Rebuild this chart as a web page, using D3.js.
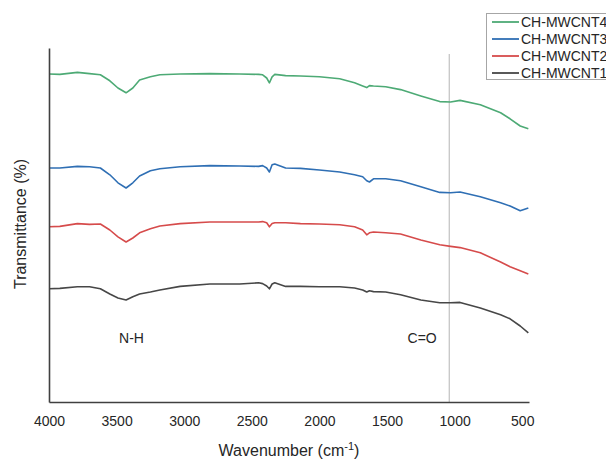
<!DOCTYPE html>
<html lang="en">
	<head>
		<meta charset="utf-8">
		<title>FTIR spectra</title>
		<script type="text/javascript" src="https://cdn.jsdelivr.net/npm/d3@7/dist/d3.min.js"></script>
		<style type="text/css">
			body { margin: 0; background: #fff; }
			text { font-family: "Liberation Sans", Arial, sans-serif; fill: #262626; }
		</style>
	</head>

	<body>
		<script type="text/javascript">
			/* wavenumbers (cm-1) shared by all four spectra */
			var wavenumber = [4000, 3920, 3790, 3700, 3620, 3550, 3490, 3430, 3380, 3330,
							3250, 3180, 3030, 2810, 2590, 2450, 2420, 2390, 2370, 2350,
							2330, 2250, 2140, 2000, 1850, 1740, 1680, 1650, 1630, 1600,
							1510, 1400, 1250, 1110, 1030, 960, 810, 660, 590, 515, 455];

			/* transmittance, spectra offset vertically (arbitrary units) */
			var mwcnt4 = [82, 81.9, 82.4, 82.1, 81.8, 80.3, 78.5, 77.3, 78.5, 80.5,
						81.3, 81.8, 82, 82.1, 82, 81.9, 81.8, 81, 79.8, 81.3,
						81.9, 81.6, 81.5, 81.3, 80.8, 79.8, 79, 78.6, 79.1, 79,
						78.8, 78.1, 76.5, 75.1, 75, 75.4, 74.3, 72.3, 70.8, 69, 68.3];
			var mwcnt3 = [58.5, 58.5, 58.9, 58.8, 58.5, 56.8, 54.8, 53.5, 54.8, 56.5,
						57.8, 58.3, 58.8, 59.1, 59, 58.9, 59.1, 58.5, 57.5, 59.3,
						59.5, 58.5, 58.4, 58, 57.5, 56.8, 56.3, 55.3, 55, 55.8,
						55.8, 55.3, 53.8, 52.4, 52.3, 52.5, 51.3, 49.8, 49, 47.8, 48.5];
			var mwcnt2 = [43.8, 43.9, 44.6, 44.4, 44.5, 43, 41.3, 40, 41, 42.3,
						43.3, 44, 44.6, 45, 45, 45, 45.1, 44.8, 43.8, 44.6,
						44.8, 44.8, 44.6, 44.5, 44.3, 43.8, 43, 41.8, 42.3, 42.5,
						42.3, 42, 40.5, 39.3, 38.9, 38.6, 37.3, 35, 33.8, 32.8, 32];
			var mwcnt1 = [28.3, 28.4, 28.8, 28.8, 28.3, 27, 26, 25.5, 26.3, 27,
						27.5, 28, 28.9, 29.5, 29.5, 29.8, 29.6, 29, 28.3, 29.5,
						29.8, 28.9, 28.9, 28.8, 28.8, 28.5, 28, 27.5, 27.8, 27.6,
						27.5, 26.8, 25.5, 24.8, 24.8, 24.9, 23.5, 21.8, 20.8, 19, 17.3];

			var seriesNames = ["CH-MWCNT4", "CH-MWCNT3", "CH-MWCNT2", "CH-MWCNT1"];
			var seriesValues = [mwcnt4, mwcnt3, mwcnt2, mwcnt1];
			var seriesColors = ["#4daa75", "#2f6fb4", "#d64b4b", "#474747"];
			var xTicks = [4000, 3500, 3000, 2500, 2000, 1500, 1000, 500];
			var markerWave = 1040;
			var annotations = [{ label: "N-H", w: 3390 }, { label: "C=O", w: 1240 }];

			var svgWidth = 606;
			var svgHeight = 459;
			/* plot frame (note: "top" is reserved on window, so use plotTop) */
			var plotLeft = 49, plotRight = 529, plotTop = 48, plotBottom = 402;

			var svg = d3.select("body")
				.append("svg")
				.attr("width", svgWidth)
				.attr("height", svgHeight);

			var x = d3.scaleLinear().domain([4000, 450]).range([plotLeft, plotRight]);
			var y = d3.scaleLinear().domain([0, 88.5]).range([plotBottom, plotTop]);

			/* thin grey marker line */
			svg.append("line")
				.attr("x1", x(markerWave)).attr("x2", x(markerWave))
				.attr("y1", plotTop + 6).attr("y2", plotBottom)
				.attr("stroke", "#b5b5b5")
				.attr("stroke-width", 1);

			var spectrumLine = d3.line()
				.x(function(d, i) { return x(wavenumber[i]); })
				.y(function(d) { return y(d); });

			svg.selectAll("path.spectrum")
				.data(seriesValues)
				.enter()
				.append("path")
				.attr("class", "spectrum")
				.attr("fill", "none")
				.attr("stroke", function(d, i) { return seriesColors[i]; })
				.attr("stroke-width", 1.6)
				.attr("stroke-linejoin", "round")
				.attr("d", spectrumLine);

			/* axes: no ticks, just the frame lines and labels */
			var xAxis = svg.append("g")
				.attr("transform", "translate(0," + plotBottom + ")")
				.call(d3.axisBottom(x).tickValues(xTicks).tickFormat(d3.format("d"))
					.tickSize(0).tickSizeOuter(0).tickPadding(14));
			xAxis.select(".domain").attr("stroke", "#404040").attr("stroke-width", 1.6);
			xAxis.selectAll("text")
				.style("font-size", "14px")
				.style("font-family", "\"Liberation Sans\", Arial, sans-serif")
				.attr("fill", "#262626");

			var yAxis = svg.append("g")
				.attr("transform", "translate(" + plotLeft + ",0)")
				.call(d3.axisLeft(y).tickValues([]).tickSizeOuter(0));
			yAxis.select(".domain").attr("stroke", "#404040").attr("stroke-width", 1.6);

			var xTitle = svg.append("text")
				.attr("x", (plotLeft + plotRight) / 2)
				.attr("y", 456)
				.attr("text-anchor", "middle")
				.style("font-size", "16px");
			xTitle.append("tspan").text("Wavenumber (cm");
			xTitle.append("tspan").attr("dy", -6).style("font-size", "11px").text("-1");
			xTitle.append("tspan").attr("dy", 6).text(")");

			svg.append("text")
				.attr("transform", "translate(26,224) rotate(-90)")
				.attr("text-anchor", "middle")
				.style("font-size", "16px")
				.text("Transmittance (%)");

			svg.selectAll("text.note")
				.data(annotations)
				.enter()
				.append("text")
				.attr("class", "note")
				.attr("x", function(d) { return x(d.w); })
				.attr("y", 343)
				.attr("text-anchor", "middle")
				.style("font-size", "14px")
				.text(function(d) { return d.label; });

			/* legend box, running off the right edge */
			var legend = svg.append("g");
			legend.append("rect")
				.attr("x", 486.5).attr("y", 13.5)
				.attr("width", 130).attr("height", 66)
				.attr("fill", "#fff")
				.attr("stroke", "#a6a6a6");

			var rows = legend.selectAll("g.row")
				.data(seriesNames)
				.enter()
				.append("g")
				.attr("class", "row")
				.attr("transform", function(d, i) { return "translate(0," + (22 + i * 17) + ")"; });
			rows.append("line")
				.attr("x1", 492).attr("x2", 519)
				.attr("stroke", function(d, i) { return seriesColors[i]; })
				.attr("stroke-width", 1.8);
			rows.append("text")
				.attr("x", 521)
				.attr("dy", "0.36em")
				.style("font-size", "14px")
				.text(function(d) { return d; });
		</script>
	</body>
</html>
